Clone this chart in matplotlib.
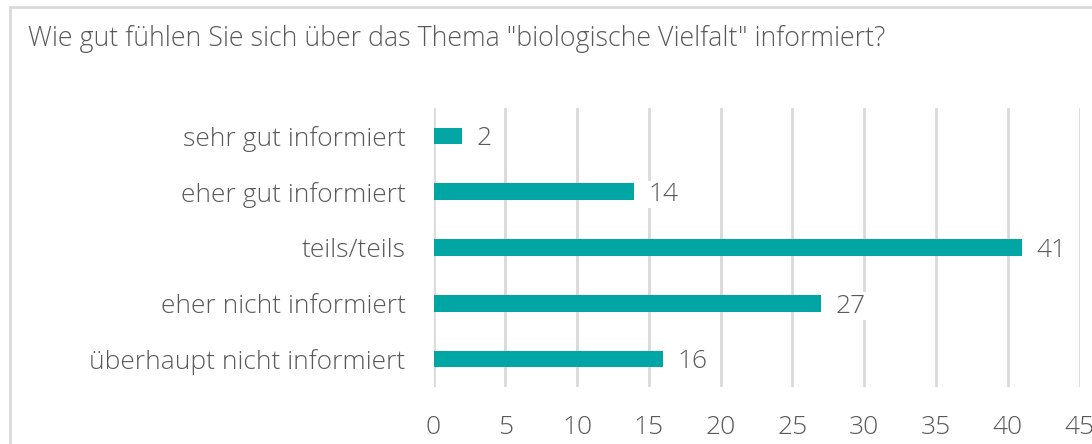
import matplotlib.pyplot as plt
from matplotlib.patches import Rectangle

# Daten
categories = ['sehr gut informiert', 'eher gut informiert', 'teils/teils',
              'eher nicht informiert', 'überhaupt nicht informiert']
values = [2, 14, 41, 27, 16]
x_ticks = [0, 5, 10, 15, 20, 25, 30, 35, 40, 45]
title = 'Wie gut fühlen Sie sich über das Thema "biologische Vielfalt" informiert?'

BAR_COLOR = '#00A6A4'
GRID_COLOR = '#D9D9D9'
TEXT_COLOR = '#595959'

plt.rcParams['font.family'] = ['Open Sans', 'DejaVu Sans']

fig = plt.figure(figsize=(10.92, 4.44), dpi=100)

# Rahmen um das Diagramm
fig.patches.append(Rectangle((10 / 1092, -0.1), 1.2, 1 - 7 / 444 + 0.1,
                             transform=fig.transFigure, fill=False,
                             edgecolor=GRID_COLOR, linewidth=2))

fig.text(28 / 1092, 1 - 39 / 444, title, fontsize=19.3, color=TEXT_COLOR,
         fontweight='light', va='center', ha='left')

ax = fig.add_axes([433.5 / 1092, 1 - 387 / 444, (1079.5 - 433.5) / 1092, (387 - 108) / 444])
y_pos = list(range(len(categories)))
ax.barh(y_pos, values, height=0.3, color=BAR_COLOR, zorder=3)
ax.set_ylim(len(categories) - 0.5, -0.5)
ax.set_xlim(0, 45)
ax.set_xticks(x_ticks)
ax.set_yticks(y_pos)
ax.set_yticklabels(categories)
ax.grid(axis='x', color=GRID_COLOR, linewidth=2, zorder=0)
for s in ax.spines.values():
    s.set_visible(False)
ax.tick_params(axis='both', length=0, colors=TEXT_COLOR, labelsize=19)
ax.tick_params(axis='x', pad=20)
ax.tick_params(axis='y', pad=20)
for lbl in ax.get_xticklabels() + ax.get_yticklabels():
    lbl.set_fontweight('light')

for y, v in zip(y_pos, values):
    ax.text(v + 1.0, y + 0.05, str(v), va='center', ha='left', fontsize=19,
            color=TEXT_COLOR, fontweight='light', zorder=4,
            bbox=dict(facecolor='white', edgecolor='none', pad=1.0))

fig.savefig('out.png', dpi=100)
